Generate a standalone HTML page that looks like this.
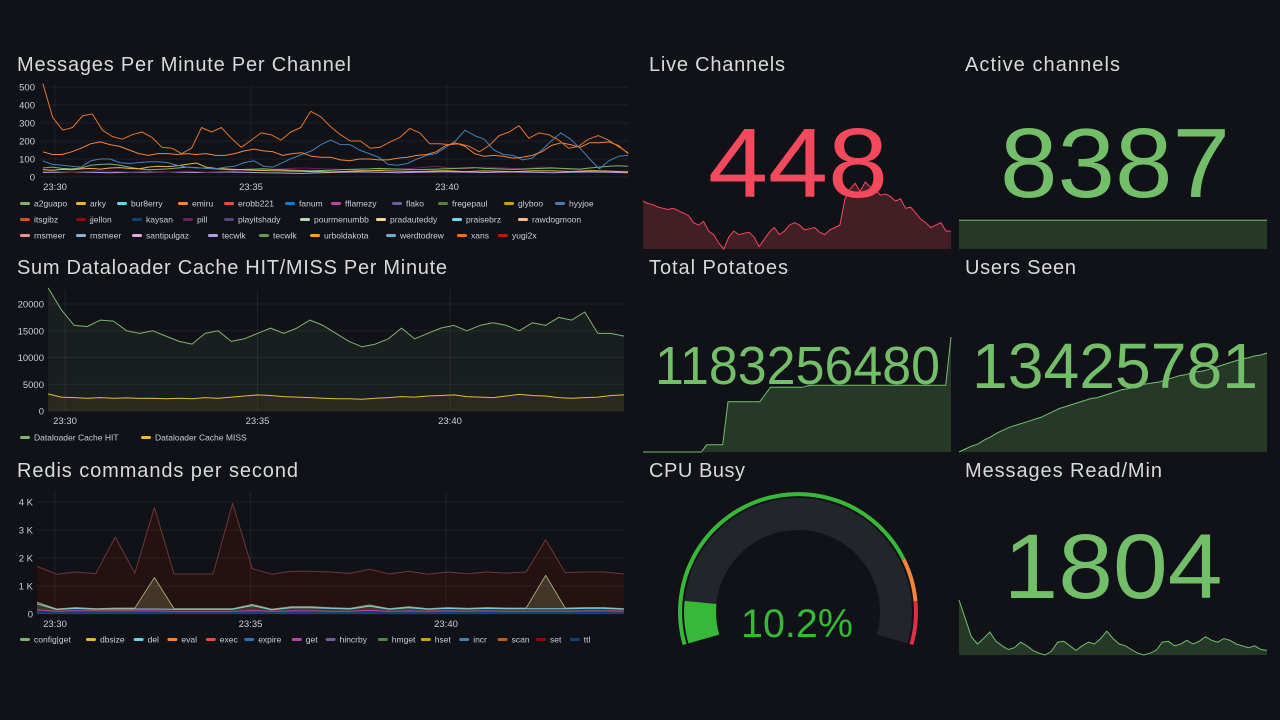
<!DOCTYPE html>
<html><head><meta charset="utf-8"><style>
html,body{margin:0;padding:0;background:#111217;width:1280px;height:720px;overflow:hidden}
svg{display:block;font-family:"Liberation Sans",sans-serif}
</style></head><body>
<svg id="dash" width="1280" height="720" viewBox="0 0 1280 720" xmlns="http://www.w3.org/2000/svg">
<g id="titles" fill="#d8d9dc" font-size="20">
<text x="17" y="71" textLength="334">Messages Per Minute Per Channel</text>
<text x="17" y="274" textLength="430">Sum Dataloader Cache HIT/MISS Per Minute</text>
<text x="17" y="477" textLength="281">Redis commands per second</text>
<text x="649" y="71" textLength="136">Live Channels</text>
<text x="965" y="71" textLength="155">Active channels</text>
<text x="649" y="274" textLength="139">Total Potatoes</text>
<text x="965" y="274" textLength="111">Users Seen</text>
<text x="649" y="477" textLength="96">CPU Busy</text>
<text x="965" y="477" textLength="197">Messages Read/Min</text>
</g>
<g id="layer"></g>
</svg>
<script>
// ---------- Panel 1 data ----------
const p1Ticks = ["0","100","200","300","400","500"];
const p1TickVals = [0,100,200,300,400,500];
const p1TimeTicks = ["23:30","23:35","23:40"];
const p1TimeVals = [30,35,40];
const p1Names = ["a2guapo","arky","bur8erry","emiru","erobb221","fanum","fflamezy","flako","fregepaul","glyboo","hyyjoe","itsgibz","jjellon","kaysan","pill","playitshady","pourmenumbb","pradauteddy","praisebrz","rawdogmoon","rnsmeer","rnsmeer","santipulgaz","tecwlk","tecwlk","urboldakota","werdtodrew","xans","yugi2x"];
const xansVals = [520,330,260,275,340,350,260,225,210,235,250,220,165,160,130,160,275,250,275,215,165,205,245,235,205,250,275,365,335,280,235,200,200,160,165,195,220,270,245,185,185,180,185,170,140,175,230,250,285,215,245,235,205,160,170,210,230,205,170,135];
const emiruVals = [140,125,125,140,160,185,195,180,170,150,130,120,130,130,125,130,125,130,120,120,130,145,155,145,140,120,130,135,115,110,110,95,90,100,100,95,95,105,110,120,125,140,175,190,170,130,115,120,115,105,110,120,140,175,190,180,165,190,190,195,175,130];
const hyyjoeVals = [90,70,65,60,55,90,100,100,80,75,80,85,85,80,65,55,50,50,45,55,60,80,90,60,55,80,105,125,145,180,205,180,180,150,130,110,70,65,75,100,120,130,165,200,260,230,210,150,125,120,95,105,150,200,245,210,160,100,45,90,115,120];
const arkyVals = [40,38,42,40,45,48,44,50,52,48,45,55,60,58,62,70,78,55,48,45,42,40,38,36,35,34,33,32,30,30,28,30,32,34,35,36,34,33,32,30,32,34,35,33,30,32,34,33,31,30,32,34,35,34,33,30,32,35,34,33,30,28];
const a2Vals = [50,55,48,45,50,65,70,72,65,55,45,40,42,45,50,55,52,48,45,42,40,42,44,46,42,40,38,36,35,36,38,40,42,44,45,48,46,44,42,40,42,44,46,48,50,52,48,46,44,42,44,46,48,50,48,46,44,50,55,60,62,60];
const pillVals = [30,32,30,28,30,32,34,32,30,28,30,32,30,28,30,32,30,28,30,32,34,35,38,40,42,45,48,50,48,46,44,42,40,38,36,40,42,44,46,50,55,60,52,48,46,50,55,52,50,48,46,50,55,52,48,40,38,36,35,34,33,32];
const tecwlkVals = [25,26,27,28,27,26,25,24,25,26,27,28,29,28,27,26,25,26,27,28,27,26,25,24,23,22,21,20,22,24,25,26,27,28,27,26,25,24,25,26,27,28,29,28,27,26,25,26,27,28,27,26,25,24,25,26,27,28,27,26,25,24];
// ---------- Panel 2 data ----------
const p2Ticks = ["0","5000","10000","15000","20000"];
const p2TickVals = [0,5000,10000,15000,20000];
const p2TimeTicks = ["23:30","23:35","23:40"];
const p2TimeVals = [30,35,40];
const hitVals = [23000,19000,16000,15800,17000,16800,15000,14500,15000,14000,13000,12500,14500,15000,13000,13500,14500,15500,14500,15500,17000,16000,14500,13000,12000,12500,13500,15500,13500,14500,15500,16000,15000,16000,16500,16000,15000,16500,16000,17500,17000,18500,14500,14500,14000];
const missVals = [3200,2600,2500,2400,2500,2400,2450,2350,2400,2300,2400,2300,2500,2400,2600,2800,3000,2900,2700,2600,2500,2400,2300,2300,2200,2400,2500,2700,2600,2800,2900,3000,2700,2600,2500,2800,3100,2900,2800,2500,2400,2500,2600,2900,3000];
// ---------- Panel 3 data ----------
const p3Ticks = ["0","1 K","2 K","3 K","4 K"];
const p3TickVals = [0,1000,2000,3000,4000];
const p3TimeTicks = ["23:30","23:35","23:40"];
const p3TimeVals = [30,35,40];
const p3Names = ["config|get","dbsize","del","eval","exec","expire","get","hincrby","hmget","hset","incr","scan","set","ttl"];
const setVals = [1700,1420,1500,1440,2750,1450,3800,1430,1430,1430,3950,1620,1420,1530,1520,1500,1450,1600,1430,1530,1420,1500,1440,1500,1460,1500,2650,1480,1500,1500,1430];
const hmgetVals = [420,180,230,190,210,210,1300,190,190,190,190,340,170,260,260,220,200,320,190,260,190,230,200,230,210,210,1380,210,230,230,190];
const delVals = [360,160,200,170,180,180,180,170,170,170,170,300,150,220,220,200,180,280,170,220,170,200,180,200,190,190,190,190,200,200,170];
const getVals = [150,100,120,110,110,110,110,100,100,100,100,120,100,110,110,100,100,130,100,110,100,110,100,110,100,100,100,100,110,110,100];
const ttlVals = [50,40,45,40,42,42,42,40,40,40,40,45,40,42,42,40,40,45,40,42,40,42,40,42,40,40,40,40,42,42,40];
// ---------- Stats data ----------
const liveChannelsValue = "448";
const liveSpark = [50,48,47,45,44,43,44,42,40,38,32,30,33,25,22,15,10,20,25,22,23,24,20,12,18,24,28,22,25,30,32,30,26,27,28,24,22,26,28,30,52,60,65,58,66,62,60,55,56,54,50,52,44,45,40,35,32,28,30,32,25,25];
const activeChannelsValue = "8387";
const activeSpark = [8387,8387,8387,8387,8387,8387,8387,8387];
const potatoesValue = "1183256480";
const potatoSpark = [0,0,0,0,0,0,0,0,0,0,0,0,1,1,1,1,7,7,7,7,7,7,7,8,9,9,9,9,9,9,9,9.2,9.3,9.3,9.3,9.3,9.3,9.3,9.3,9.3,9.3,9.3,9.3,9.3,9.3,9.3,9.3,9.3,9.3,9.3,9.3,9.3,9.3,9.3,9.3,9.3,9.3,9.3,16];
const usersValue = "13425781";
const usersSpark = [0,3,6,8,12,15,19,22,25,27,29,31,33,35,38,41,44,46,48,50,52,54,55,57,59,61,63,64,66,68,69,70,71,73,75,77,78,80,81,82,84,86,88,90,92,94,95,97,98,100];
const readValue = "1804";
const readSpark = [60,40,20,12,18,25,15,10,6,8,14,10,5,2,0,4,14,15,10,5,10,14,12,18,26,18,12,10,6,2,0,2,5,14,15,10,12,16,12,15,20,16,14,18,16,12,10,8,10,6,5];
const cpuValue = 10.2;
const cpuLabel = "10.2%";

const NS = "http://www.w3.org/2000/svg";
const layer = document.getElementById('layer');
function mk(tag, attrs, parent){ const e=document.createElementNS(NS,tag); for(const k in attrs) e.setAttribute(k,attrs[k]); (parent||layer).appendChild(e); return e; }
function txt(s, attrs, parent){ const e=mk('text',attrs,parent); e.textContent=s; return e; }

function axes(cfg){
  const g=mk('g',{});  
  cfg.tickVals.forEach((v,i)=>{
    const y=cfg.y(v);
    mk('line',{x1:cfg.x0,x2:cfg.x1,y1:y,y2:y,stroke:'rgba(204,204,220,0.08)','stroke-width':1},g);
    const t=txt(cfg.ticks[i],{x:cfg.labelX,y:y+3.5,'font-size':9.5,fill:'#ccccdc','text-anchor':'end'},g);
     
  });
  cfg.timeVals.forEach((tv,i)=>{
    const x=cfg.x(tv);
    mk('line',{x1:x,x2:x,y1:cfg.yTop,y2:cfg.y(0),stroke:'rgba(204,204,220,0.08)','stroke-width':1},g);
    const t=txt(cfg.timeTicks[i],{x:x,y:cfg.y(0)+13,'font-size':9.5,fill:'#ccccdc','text-anchor':'middle'},g);
     
  });
}
function series(vals,cfg,color,name,fillOp,width){
  const n=vals.length; const pts=vals.map((v,i)=>[cfg.x(cfg.t0+(cfg.t1-cfg.t0)*i/(n-1)), cfg.y(v)]);
  const d=pts.map((p,i)=>(i?'L':'M')+p[0].toFixed(1)+','+p[1].toFixed(1)).join('');
  if(fillOp){ const a=mk('path',{d:d+'L'+pts[n-1][0].toFixed(1)+','+cfg.y(0)+'L'+pts[0][0].toFixed(1)+','+cfg.y(0)+'Z',fill:color,'fill-opacity':fillOp,stroke:'none'});
      }
  const l=mk('path',{d:d,fill:'none',stroke:color,'stroke-width':width||1,'stroke-linejoin':'round'});
   
}
function legend(names,colors,x,y,rowW,k,c){
  let cx=x, cy=y;
  names.forEach((n,i)=>{
    const w=n.length*k+c;
    if(cx+w>x+rowW){cx=x;cy+=16;}
    const g=mk('g',{});  
    mk('rect',{x:cx,y:cy-2,width:10,height:3,rx:1.5,fill:colors[i]},g);
    txt(n,{x:cx+14,y:cy+2.5,'font-size':8.5,fill:'#ccccdc'},g);
    cx+=w;
  });
}
const pal=["#7EB26D","#EAB839","#6ED0E0","#EF843C","#E24D42","#1F78C1","#BA43A9","#705DA0","#508642","#CCA300","#447EBC","#C15C17","#890F02","#0A437C","#6D1F62","#584477","#B7DBAB","#F4D598","#70DBED","#F9BA8F","#F29191","#82B5D8","#E5A8E2","#AEA2E0","#629E51","#E5AC0E","#64B0C8","#E0752D","#BF1B00"];

// Panel 1
const c1={name:'messages',x0:40,x1:628,yTop:85,labelX:35,t0:29.69,t1:44.62,x:t=>55+(t-30)*39.2,y:v=>177-v*0.18,ticks:p1Ticks,tickVals:p1TickVals,timeTicks:p1TimeTicks,timeVals:p1TimeVals};
axes(c1);
series(tecwlkVals,c1,pal[23],'tecwlk');
series(pillVals,c1,pal[14],'pill');
series(a2Vals,c1,pal[0],'a2guapo');
series(arkyVals,c1,pal[1],'arky');
series(hyyjoeVals,c1,pal[10],'hyyjoe');
series(emiruVals,c1,pal[3],'emiru');
series(xansVals,c1,pal[27],'xans');
legend(p1Names,pal,20,204,605,5,21);

// Panel 2
const c2={name:'dataloader',x0:48,x1:624,yTop:290,labelX:44,t0:29.56,t1:44.52,x:t=>65+(t-30)*38.5,y:v=>411-v*107/20000,ticks:p2Ticks,tickVals:p2TickVals,timeTicks:p2TimeTicks,timeVals:p2TimeVals};
axes(c2);
series(hitVals,c2,pal[0],'cache-hit',0.08);
series(missVals,c2,pal[1],'cache-miss',0.08);
legend(["Dataloader Cache HIT","Dataloader Cache MISS"],[pal[0],pal[1]],20,438,600,5,21);

// Panel 3
const c3={name:'redis',x0:37,x1:624,yTop:492,labelX:33,t0:29.54,t1:44.55,x:t=>55+(t-30)*39.1,y:v=>614-v*0.028,ticks:p3Ticks,tickVals:p3TickVals,timeTicks:p3TimeTicks,timeVals:p3TimeVals};
axes(c3);
series(setVals,c3,'#6a3a3a','set',0.0);
(function(){ const n=setVals.length; const pts=setVals.map((v,i)=>[c3.x(c3.t0+(c3.t1-c3.t0)*i/(n-1)),c3.y(v)]);
 const a=mk('path',{d:'M'+pts.map(p=>p[0].toFixed(1)+','+p[1].toFixed(1)).join('L')+'L'+pts[n-1][0]+','+c3.y(0)+'L'+pts[0][0]+','+c3.y(0)+'Z',fill:'#890F02','fill-opacity':0.18});
   })();
series(hmgetVals,c3,'#9aa56a','hmget',0.25);
series(delVals,c3,pal[2],'del',0);
series(getVals,c3,pal[6],'get',0);
series(ttlVals,c3,pal[13],'ttl',0,1.5);
legend(p3Names,[pal[0],pal[1],pal[2],pal[3],pal[4],pal[5],pal[6],pal[7],pal[8],pal[9],pal[10],pal[11],pal[12],pal[13]],20,640,605,4.6,20);

// Stat helpers
function spark(vals,x0,x1,yTop,yBot,color,fill,name,minV,maxV){
  const mn=minV!==undefined?minV:Math.min(...vals), mx=maxV!==undefined?maxV:Math.max(...vals);
  const n=vals.length; const pts=vals.map((v,i)=>[x0+(x1-x0)*i/(n-1), yBot-(mx===mn?0.45:(v-mn)/(mx-mn))*(yBot-yTop)]);
  const d='M'+pts.map(p=>p[0].toFixed(1)+','+p[1].toFixed(1)).join('L');
  const a=mk('path',{d:d+'L'+x1+','+yBot+'L'+x0+','+yBot+'Z',fill:fill});
   
  const l=mk('path',{d:d,fill:'none',stroke:color,'stroke-width':1});
   
}
function big(s,x,y,size,len,color,name,anchor){
  const t=txt(s,{x:x,y:y,'font-size':size,fill:color,'text-anchor':anchor||'middle',textLength:len,lengthAdjust:'spacingAndGlyphs'});
   
}
spark(liveSpark,643,951,182,249,'#f2495c','rgba(242,73,92,0.22)','live-channels');
big(liveChannelsValue,798,197,98,180,'#f2495c','live-channels-value');
spark(activeSpark,959,1267,185,249,'#73bf69','rgba(115,191,105,0.22)','active-channels');
big(activeChannelsValue,1115,197,98,230,'#73bf69','active-channels-value');
spark(potatoSpark,643,951,337,452,'#73bf69','rgba(115,191,105,0.22)','total-potatoes');
big(potatoesValue,655,384,54,285,'#73bf69','total-potatoes-value','start');
spark(usersSpark,959,1267,353,452,'#73bf69','rgba(115,191,105,0.22)','users-seen');
big(usersValue,972,388,64,286,'#73bf69','users-seen-value','start');
spark(readSpark,959,1267,600,655,'#73bf69','rgba(115,191,105,0.22)','messages-read');
big(readValue,1113,598,92,219,'#73bf69','messages-read-value');

// Gauge
(function(){
  const cx=798, cy=612, a0=196, a1=-16;
  function pt(r,deg){const t=deg*Math.PI/180;return [cx+r*Math.cos(t), cy-r*Math.sin(t)];}
  function arc(r,d0,d1){const p0=pt(r,d0),p1=pt(r,d1);const large=(d0-d1)>180?1:0;return 'M'+p0[0].toFixed(1)+','+p0[1].toFixed(1)+'A'+r+','+r+' 0 '+large+' 1 '+p1[0].toFixed(1)+','+p1[1].toFixed(1);}
  const span=a0-a1;
  const ang=v=>a0-span*v/100;
  const g=mk('g',{});  
  const th=[[0,80,'#37b838'],[80,90,'#ef843c'],[90,100,'#e02f44']];
  th.forEach(t=>mk('path',{d:arc(118,ang(t[0]),ang(t[1])),stroke:t[2],'stroke-width':4,fill:'none'},g));
  mk('path',{d:arc(98,ang(0),ang(100)),stroke:'#22252b','stroke-width':32,fill:'none'},g);
  const v=mk('path',{d:arc(98,ang(0),ang(cpuValue)),stroke:'#37b838','stroke-width':32,fill:'none'},g);
   
  big(cpuLabel,797,637,40,112,'#37b838','cpu-busy-value');
})();
</script>
</body></html>
